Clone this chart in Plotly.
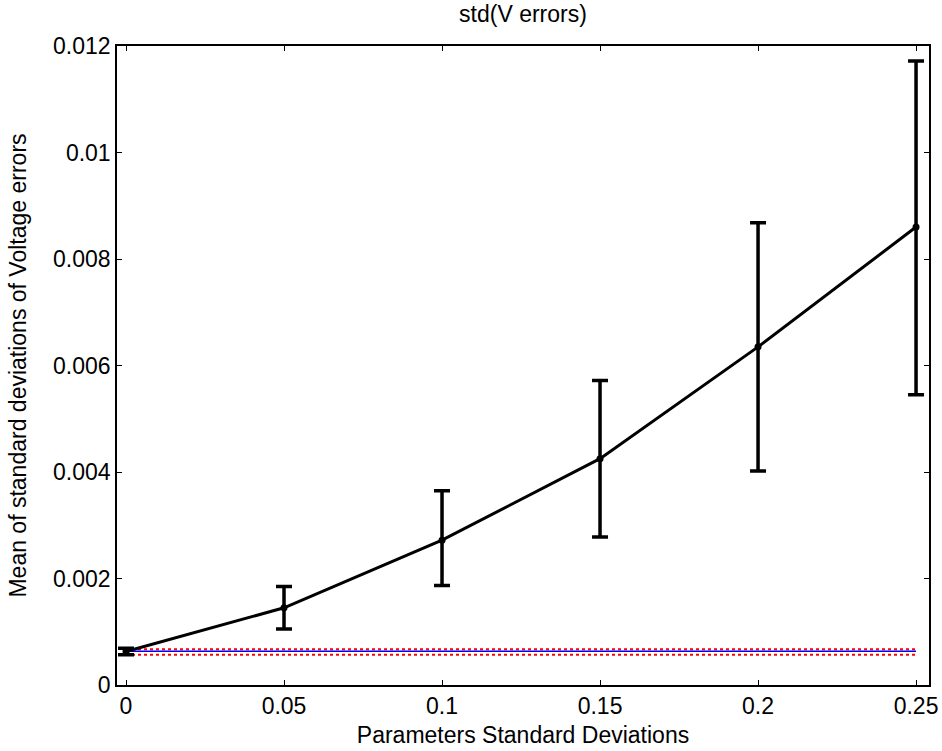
import plotly.graph_objects as go

x_vals = [0, 0.05, 0.1, 0.15, 0.2, 0.25]
y_mean = [0.00063, 0.00145, 0.00272, 0.00425, 0.00635, 0.0086]
y_lo = [0.00057, 0.00105, 0.00187, 0.00278, 0.00402, 0.00545]
y_hi = [0.00069, 0.00185, 0.00365, 0.00572, 0.00868, 0.01172]

ref_x = [0, 0.25]
ref_mid = 0.000633
ref_upper = 0.00067
ref_lower = 0.000569

x_ticks = [0, 0.05, 0.1, 0.15, 0.2, 0.25]
x_ticktext = ["0", "0.05", "0.1", "0.15", "0.2", "0.25"]
y_ticks = [0, 0.002, 0.004, 0.006, 0.008, 0.01, 0.012]
y_ticktext = ["0", "0.002", "0.004", "0.006", "0.008", "0.01", "0.012"]

err_plus = [h - m for h, m in zip(y_hi, y_mean)]
err_minus = [m - l for m, l in zip(y_mean, y_lo)]

FONT = "Liberation Sans, Arial"
FS = 23

fig = go.Figure()
fig.add_trace(go.Scatter(x=ref_x, y=[ref_upper, ref_upper], mode="lines",
                         line=dict(color="red", width=2, dash="dot"), showlegend=False))
fig.add_trace(go.Scatter(x=ref_x, y=[ref_lower, ref_lower], mode="lines",
                         line=dict(color="red", width=2, dash="dot"), showlegend=False))
fig.add_trace(go.Scatter(x=ref_x, y=[ref_mid, ref_mid], mode="lines",
                         line=dict(color="blue", width=1.5), showlegend=False))
fig.add_trace(go.Scatter(
    x=x_vals, y=y_mean, mode="lines+markers",
    line=dict(color="black", width=3),
    marker=dict(color="black", size=7),
    error_y=dict(type="data", symmetric=False, array=err_plus, arrayminus=err_minus,
                 color="black", thickness=3.5, width=8),
    showlegend=False))

axis_common = dict(showline=True, linecolor="black", linewidth=1.5, mirror="ticks",
                   ticks="inside", ticklen=5, tickcolor="black", tickwidth=1,
                   showgrid=False, zeroline=False, automargin=False,
                   tickfont=dict(family=FONT, size=FS, color="black"))

fig.update_xaxes(range=[-0.00285, 0.2541], tickvals=x_ticks, ticktext=x_ticktext,
                 title=dict(text="Parameters Standard Deviations",
                            font=dict(family=FONT, size=FS, color="black"),
                            standoff=9),
                 **axis_common)
fig.update_yaxes(range=[0, 0.012], tickvals=y_ticks, ticktext=y_ticktext,
                 title=dict(text="Mean of standard deviations of Voltage errors",
                            font=dict(family=FONT, size=FS, color="black"),
                            standoff=20),
                 **axis_common)

fig.update_layout(
    width=942, height=751,
    margin=dict(l=117, r=13, t=46, b=66),
    plot_bgcolor="white", paper_bgcolor="white",
    title=dict(text="std(V errors)", x=0.5, xanchor="center", xref="paper",
               y=1, yref="container", yanchor="top", pad=dict(t=6),
               font=dict(family=FONT, size=FS, color="black")),
)

fig.write_html("out.html")
